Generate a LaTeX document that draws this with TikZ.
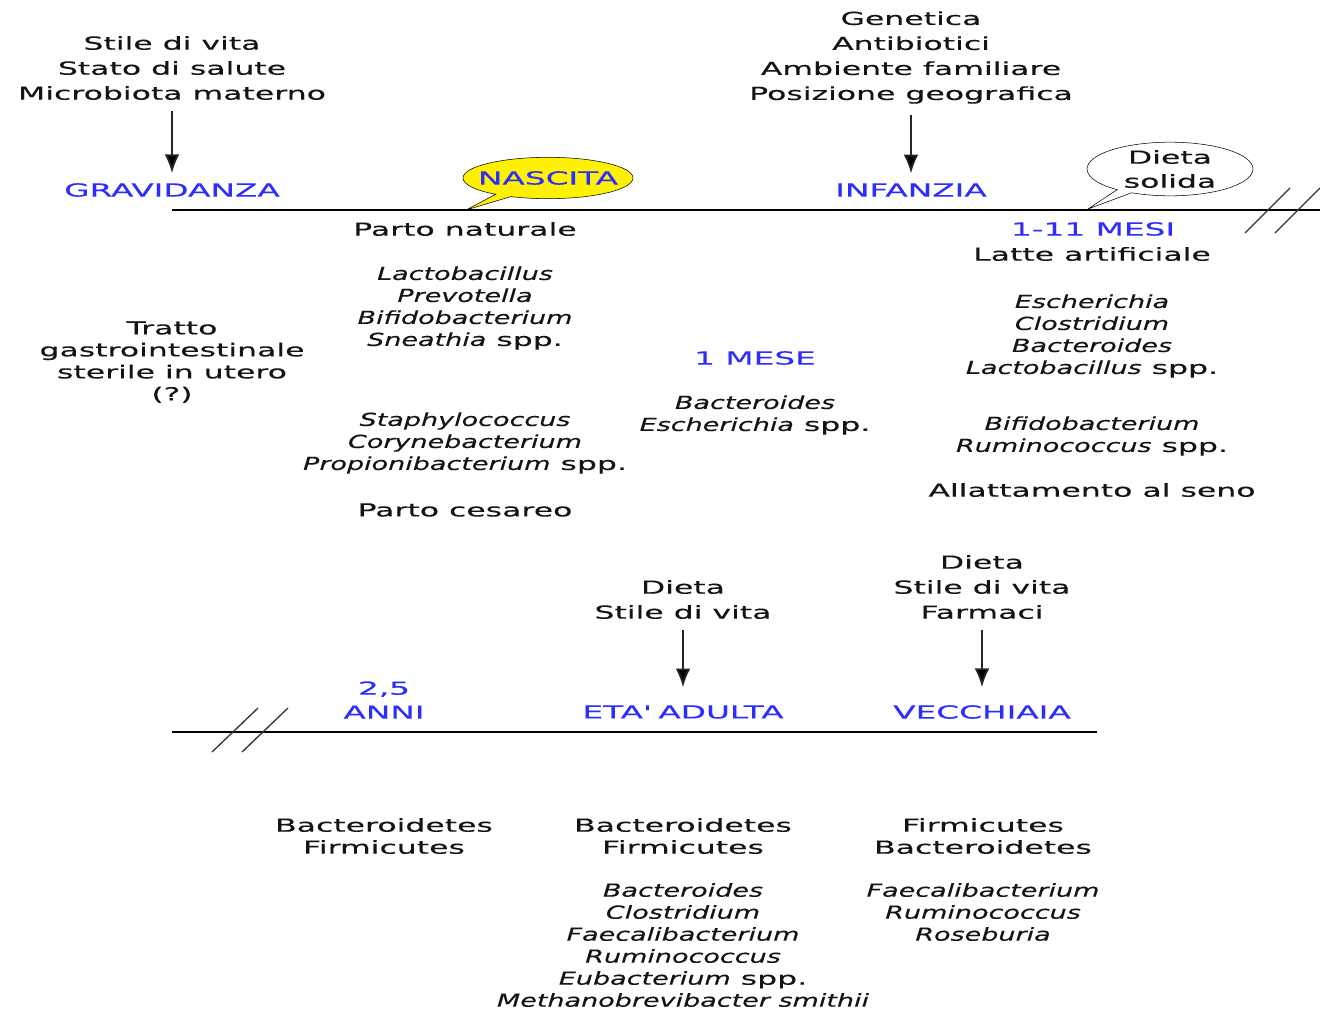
\documentclass[tikz,border=0pt]{standalone}
\usepackage{fontspec}
\setmainfont{DejaVu Sans}[FakeStretch=1.75, FakeBold=0.3]
\newfontfamily\genfont{DejaVu Sans Oblique}[FakeStretch=1.5, FakeBold=0.3]
\newfontfamily\stagefont{DejaVu Sans}[FakeStretch=1.82, FakeBold=0.3]
\usetikzlibrary{arrows.meta,shapes.callouts}
\definecolor{stageblue}{RGB}{45,45,255}
\definecolor{ink}{RGB}{20,20,20}
\newcommand\fsTop{\fontsize{13.5pt}{18.75pt}\selectfont}
\newcommand\fsList{\fontsize{13.5pt}{16.5pt}\selectfont}
\newcommand\gen[1]{{\genfont #1}}

\begin{document}
\begin{tikzpicture}[x=0.75pt, y=-0.75pt, every node/.style={align=center, text=ink, font=\fsTop},
    lst/.style={font=\fsList}, stage/.style={text=stageblue, font=\fsTop\stagefont},
    arr/.style={-{Latex[length=14pt,width=11pt]}, line width=1.3pt, draw=black!85, shorten <=5pt, shorten >=4pt},
    axis/.style={line width=1.1pt}, brk/.style={line width=1pt, black!80}]
            \useasboundingbox (0,0) rectangle (1320,1009);
            % top timeline
            \node (InflGrav) at (172,68) {Stile di vita\\Stato di salute\\Microbiota materno};
            \node [stage] (Gravidanza) at (172,190) {GRAVIDANZA};
            \node (InflInf) at (911,57.5) {Genetica\\Antibiotici\\Ambiente familiare\\Posizione geografica};
            \node [stage] (Infanzia) at (911,190) {INFANZIA};
            \coordinate (TopL) at (172,210);
            \coordinate (TopR) at (1320,210);
            \coordinate (NascitaTip) at (466,210);
            \coordinate (SolidaTip) at (1088,209);
            \node [ellipse callout, draw, fill=yellow, text=stageblue, font=\fsTop\stagefont, inner sep=0pt,
                minimum width=127.5pt, minimum height=31pt, callout pointer arc=12,
                callout absolute pointer={(NascitaTip)}] (Nascita) at (548,178) {\makebox[0pt]{NASCITA}};
            \node [ellipse callout, draw, fill=white, inner sep=0pt, minimum width=124.5pt, minimum height=39pt,
                font=\fontsize{13.5pt}{18pt}\selectfont, callout pointer arc=12,
                callout absolute pointer={(SolidaTip)}] (Solida) at (1170,169) {Dieta\\solida};
            \draw [axis] (TopL) -- (TopR);
            \foreach \x in {1245,1275} \draw [brk] (\x,233) -- ++(45,-45);
            \path [arr] (InflGrav) edge (Gravidanza);
            \path [arr] (InflInf) edge (Infanzia);
            % birth
            \node (PartoNat) at (465,229) {Parto naturale};
            \node [lst] (Vaginal) at (465,308) {\gen{Lactobacillus}\\\gen{Prevotella}\\\gen{Bifidobacterium}\\\gen{Sneathia} spp.};
            \node [lst] (Sterile) at (172,362) {Tratto\\gastrointestinale\\sterile in utero\\(?)};
            \node [lst] (Skin) at (465,443) {\gen{Staphylococcus}\\\gen{Corynebacterium}\\\gen{Propionibacterium} spp.};
            \node (PartoCes) at (465,510) {Parto cesareo};
            % first months
            \node [stage] (Mese) at (755,358) {1 MESE};
            \node [lst] (MeseList) at (755,415) {\gen{Bacteroides}\\\gen{Escherichia} spp.};
            \node [stage] (Mesi) at (1093,229) {1-11 MESI};
            \node (Latte) at (1092,254) {Latte artificiale};
            \node [lst] (LatteList) at (1092,336) {\gen{Escherichia}\\\gen{Clostridium}\\\gen{Bacteroides}\\\gen{Lactobacillus} spp.};
            \node [lst] (SenoList) at (1092,436) {\gen{Bifidobacterium}\\\gen{Ruminococcus} spp.};
            \node (Seno) at (1092,490) {Allattamento al seno};
            % bottom timeline
            \node (InflAdulta) at (683,599.5) {Dieta\\Stile di vita};
            \node (InflVecchia) at (982,587) {Dieta\\Stile di vita\\Farmaci};
            \node [stage, font=\fontsize{13.5pt}{18pt}\selectfont\stagefont] (Anni) at (384,700) {2,5\\ANNI};
            \node [stage] (Adulta) at (683,712) {ETA\textquotesingle\ ADULTA};
            \node [stage] (Vecchiaia) at (982,712) {VECCHIAIA};
            \coordinate (BotL) at (172,732);
            \coordinate (BotR) at (1097,732);
            \draw [axis] (BotL) -- (BotR);
            \foreach \x in {212,242} \draw [brk] (\x,752) -- ++(46,-44);
            \path [arr, shorten >=10pt] (InflAdulta) edge (Adulta);
            \path [arr, shorten >=10pt] (InflVecchia) edge (Vecchiaia);
            \node [lst] (PhylaAnni) at (384,836) {Bacteroidetes\\Firmicutes};
            \node [lst] (PhylaAdulta) at (683,836) {Bacteroidetes\\Firmicutes};
            \node [lst] (PhylaVecchia) at (983,836) {Firmicutes\\Bacteroidetes};
            \node [lst] (AdultaList) at (683,945) {\gen{Bacteroides}\\\gen{Clostridium}\\\gen{Faecalibacterium}\\\gen{Ruminococcus}\\\gen{Eubacterium} spp.\\\gen{Methanobrevibacter smithii}};
            \node [lst] (VecchiaList) at (983,912) {\gen{Faecalibacterium}\\\gen{Ruminococcus}\\\gen{Roseburia}};
        \end{tikzpicture}
\end{document}
